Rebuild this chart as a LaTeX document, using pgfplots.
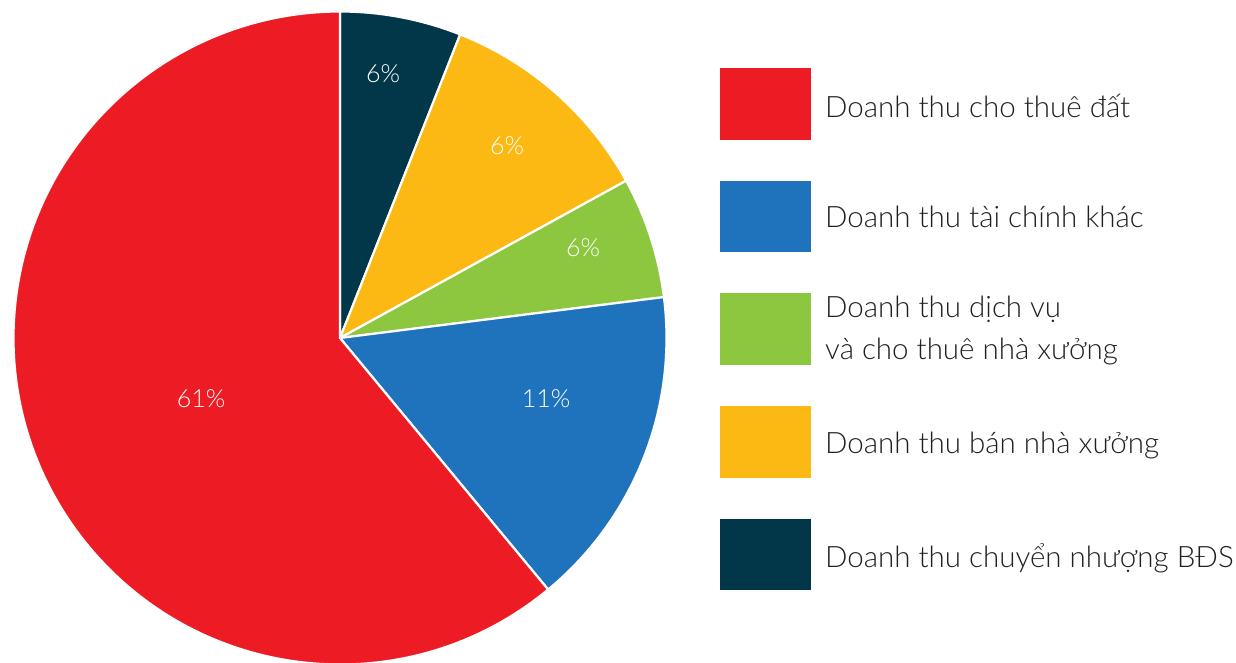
\documentclass[border=0pt]{standalone}
\usepackage{fontspec}
\setmainfont{Lato}[UprightFont=* Light]
\usepackage{pgfplots}
\usepackage{pgfplotstable}
\pgfplotsset{compat=1.18}

\definecolor{landred}{HTML}{ED1C24}
\definecolor{finblue}{HTML}{1F73BD}
\definecolor{svcgreen}{HTML}{8DC63F}
\definecolor{salegold}{HTML}{FDB913}
\definecolor{reanavy}{HTML}{023749}
\definecolor{legendtext}{HTML}{231F20}

% revenue shares in percent, clockwise from twelve o'clock:
% chuyen nhuong BDS, ban nha xuong, dich vu, tai chinh khac, cho thue dat
\pgfplotstableread{
share
6
11
6
16
61
}\revenue

\begin{document}
\begin{tikzpicture}
% cumulative start/end angles of every slice
\def\acc{90}
\foreach \i in {0,...,4}{%
  \pgfplotstablegetelem{\i}{share}\of\revenue
  \pgfmathsetmacro{\tmp}{\acc-3.6*\pgfplotsretval}%
  \expandafter\xdef\csname sliceStart\i\endcsname{\acc}%
  \expandafter\xdef\csname sliceEnd\i\endcsname{\tmp}%
  \xdef\acc{\tmp}%
}
\newcommand{\slice}[2]{%
  \filldraw[fill=#1, draw=white, line width=2.2pt, line join=round]
    (axis cs:340,324) -- ([shift={(\csname sliceStart#2\endcsname:326.5pt)}]axis cs:340,324)
    arc[start angle=\csname sliceStart#2\endcsname, end angle=\csname sliceEnd#2\endcsname, radius=326.5pt]
    -- cycle;}
\begin{axis}[
  x=1pt, y=1pt,
  xmin=0, xmax=1236, ymin=0, ymax=662,
  hide axis, clip=true,
  scale only axis,
]
\slice{reanavy}{0}
\slice{salegold}{1}
\slice{svcgreen}{2}
\slice{finblue}{3}
\slice{landred}{4}

% percentage labels
\begin{scope}[every node/.style={text=white, anchor=base, font=\fontsize{25}{29}\selectfont}]
\node at (axis cs:383,579) {6\%};
\node at (axis cs:507,507) {6\%};
\node at (axis cs:583,405) {6\%};
\node at (axis cs:546,255) {11\%};
\node at (axis cs:201,255) {61\%};
\end{scope}

% legend
\fill[landred]  (axis cs:720,522) rectangle (axis cs:811,594);
\fill[finblue]  (axis cs:720,410) rectangle (axis cs:811,481);
\fill[svcgreen] (axis cs:720,297) rectangle (axis cs:811,369);
\fill[salegold] (axis cs:720,184) rectangle (axis cs:811,256);
\fill[reanavy]  (axis cs:720,72)  rectangle (axis cs:811,143);
\begin{scope}[every node/.style={text=legendtext, anchor=base west, inner sep=0pt, font=\fontsize{29.5}{33}\selectfont}]
\node at (axis cs:825,544) {Doanh thu cho thuê đất};
\node at (axis cs:825,434) {Doanh thu tài chính khác};
\node at (axis cs:825,344) {Doanh thu dịch vụ};
\node at (axis cs:825,302) {và cho thuê nhà xưởng};
\node at (axis cs:825,209) {Doanh thu bán nhà xưởng};
\node at (axis cs:825,95)  {Doanh thu chuyển nhượng BĐS};
\end{scope}
\end{axis}
\pgfresetboundingbox
\path[use as bounding box] (current axis.south west) rectangle (current axis.north east);
\end{tikzpicture}
\end{document}
